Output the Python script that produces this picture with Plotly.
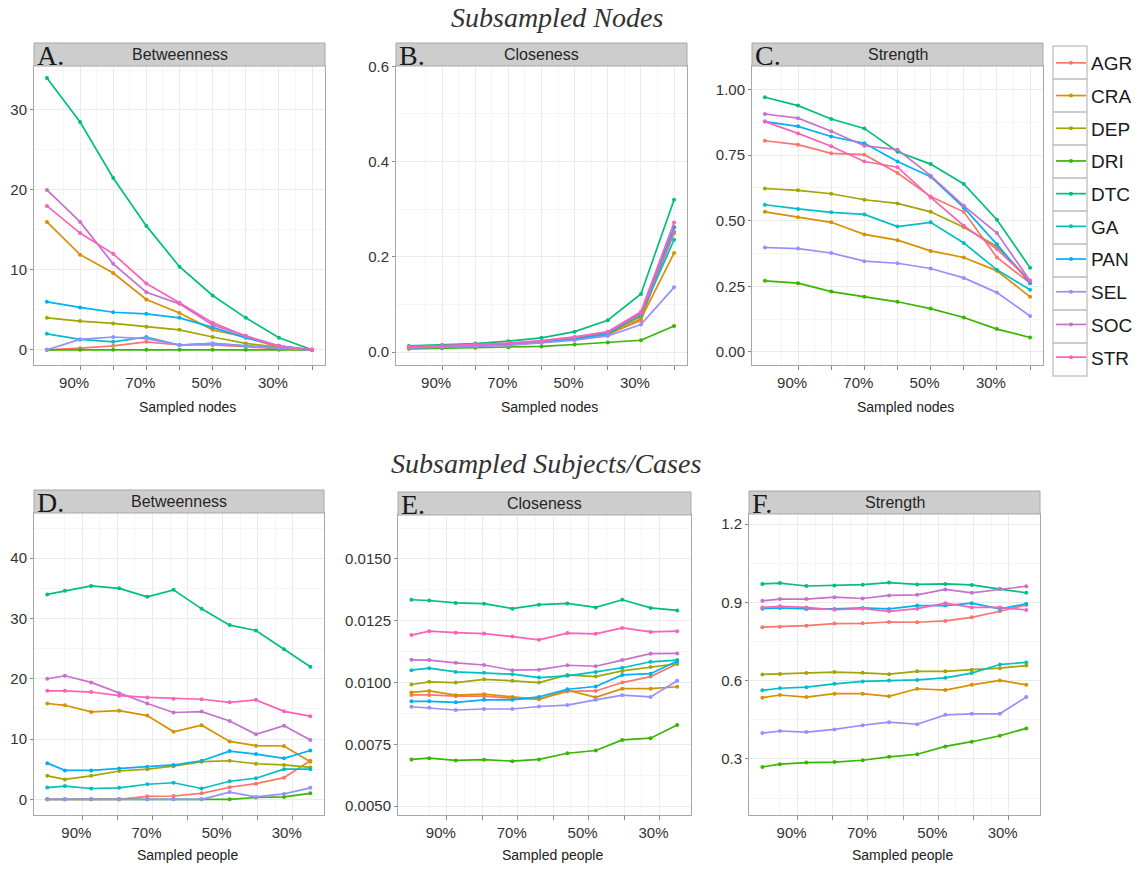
import plotly.graph_objects as go

# ---------------- data ----------------
nodes = ["AGR", "CRA", "DEP", "DRI", "DTC", "GA", "PAN", "SEL", "SOC", "STR"]
colors = ["#F8766D", "#D89000", "#A3A500", "#39B600", "#00BF7D",
          "#00BFC4", "#00B0F6", "#9590FF", "#C771CC", "#FA62B8"]

sampled_nodes = [100, 90, 80, 70, 60, 50, 40, 30, 20]
sampled_people = [100, 95, 87.5, 79.5, 71.5, 64, 56, 48, 40.5, 32.5, 25]

nodes_betweenness = {
    "AGR": [0, 0.2, 0.5, 1.0, 0.6, 0.6, 0.4, 0.1, 0],
    "CRA": [16, 11.9, 9.6, 6.3, 4.6, 2.5, 1.6, 0.3, 0],
    "DEP": [4, 3.6, 3.3, 2.9, 2.5, 1.6, 0.8, 0.3, 0],
    "DRI": [0, 0, 0, 0, 0, 0, 0, 0, 0],
    "DTC": [34, 28.5, 21.5, 15.5, 10.4, 6.8, 4.0, 1.5, 0],
    "GA":  [2, 1.3, 1.0, 1.6, 0.6, 0.8, 0.5, 0.2, 0],
    "PAN": [6, 5.3, 4.7, 4.5, 4.0, 2.8, 1.5, 0.5, 0],
    "SEL": [0, 1.3, 1.6, 1.4, 0.6, 0.8, 0.5, 0.2, 0],
    "SOC": [20, 16, 10.75, 7.2, 5.75, 3.1, 1.75, 0.5, 0],
    "STR": [18, 14.6, 12.0, 8.3, 5.9, 3.4, 1.7, 0.4, 0],
}
nodes_closeness = {
    "AGR": [0.009, 0.011, 0.013, 0.016, 0.021, 0.028, 0.038, 0.066, 0.262],
    "CRA": [0.009, 0.011, 0.013, 0.016, 0.021, 0.027, 0.036, 0.070, 0.208],
    "DEP": [0.010, 0.012, 0.014, 0.017, 0.022, 0.029, 0.039, 0.075, 0.250],
    "DRI": [0.007, 0.008, 0.009, 0.010, 0.012, 0.016, 0.020, 0.025, 0.055],
    "DTC": [0.013, 0.015, 0.018, 0.023, 0.030, 0.043, 0.067, 0.122, 0.320],
    "GA":  [0.010, 0.012, 0.014, 0.017, 0.022, 0.029, 0.040, 0.078, 0.236],
    "PAN": [0.009, 0.011, 0.013, 0.016, 0.021, 0.028, 0.038, 0.082, 0.262],
    "SEL": [0.009, 0.010, 0.012, 0.014, 0.019, 0.025, 0.034, 0.058, 0.136],
    "SOC": [0.011, 0.013, 0.015, 0.018, 0.023, 0.031, 0.042, 0.080, 0.253],
    "STR": [0.011, 0.013, 0.016, 0.019, 0.024, 0.032, 0.043, 0.085, 0.272],
}
nodes_strength = {
    "AGR": [0.805, 0.790, 0.757, 0.752, 0.682, 0.592, 0.534, 0.360, 0.262],
    "CRA": [0.534, 0.513, 0.494, 0.448, 0.426, 0.385, 0.360, 0.309, 0.210],
    "DEP": [0.623, 0.616, 0.603, 0.580, 0.566, 0.534, 0.475, 0.402, 0.271],
    "DRI": [0.271, 0.262, 0.230, 0.210, 0.191, 0.165, 0.131, 0.087, 0.055],
    "DTC": [0.971, 0.939, 0.888, 0.852, 0.763, 0.716, 0.640, 0.504, 0.321],
    "GA":  [0.561, 0.545, 0.532, 0.524, 0.478, 0.494, 0.415, 0.313, 0.237],
    "PAN": [0.878, 0.860, 0.821, 0.795, 0.726, 0.668, 0.550, 0.410, 0.262],
    "SEL": [0.398, 0.394, 0.377, 0.346, 0.338, 0.318, 0.282, 0.226, 0.137],
    "SOC": [0.907, 0.891, 0.841, 0.786, 0.771, 0.672, 0.557, 0.453, 0.271],
    "STR": [0.878, 0.833, 0.784, 0.726, 0.704, 0.589, 0.481, 0.392, 0.271],
}
people_betweenness = {
    "AGR": [0, 0, 0, 0, 0.5, 0.55, 1.0, 2.0, 2.6, 3.6, 6.4],
    "CRA": [15.9, 15.6, 14.5, 14.7, 13.9, 11.2, 12.3, 9.6, 8.9, 8.85, 6.25],
    "DEP": [3.9, 3.3, 3.9, 4.7, 5.0, 5.5, 6.25, 6.4, 5.9, 5.7, 5.3],
    "DRI": [0, 0, 0, 0, 0, 0, 0, 0, 0.3, 0.4, 1.0],
    "DTC": [34.0, 34.6, 35.4, 35.0, 33.6, 34.75, 31.6, 28.9, 28.0, 24.9, 22.0],
    "GA":  [1.95, 2.2, 1.8, 1.9, 2.5, 2.75, 1.8, 3.0, 3.5, 5.0, 5.0],
    "PAN": [6.0, 4.8, 4.8, 5.1, 5.4, 5.7, 6.4, 8.0, 7.5, 6.8, 8.1],
    "SEL": [0, 0, 0, 0, 0, 0, 0, 1.2, 0.4, 0.9, 1.9],
    "SOC": [20.0, 20.5, 19.4, 17.6, 15.9, 14.4, 14.55, 13.0, 10.8, 12.2, 9.85],
    "STR": [18.0, 18.0, 17.8, 17.2, 16.9, 16.7, 16.6, 16.1, 16.5, 14.6, 13.8],
}
people_closeness = {
    "AGR": [0.00950, 0.00950, 0.00945, 0.00945, 0.00936, 0.00933, 0.00964, 0.00966, 0.01000, 0.01024, 0.01076],
    "CRA": [0.00960, 0.00966, 0.00949, 0.00953, 0.00942, 0.00932, 0.00969, 0.00940, 0.00975, 0.00975, 0.00983],
    "DEP": [0.00992, 0.01003, 0.01000, 0.01013, 0.01007, 0.01000, 0.01031, 0.01024, 0.01047, 0.01063, 0.01076],
    "DRI": [0.00689, 0.00694, 0.00685, 0.00688, 0.00682, 0.00689, 0.00714, 0.00725, 0.00768, 0.00775, 0.00828],
    "DTC": [0.01335, 0.01332, 0.01322, 0.01319, 0.01299, 0.01315, 0.01320, 0.01304, 0.01335, 0.01302, 0.01292],
    "GA":  [0.01050, 0.01058, 0.01043, 0.01040, 0.01034, 0.01020, 0.01027, 0.01043, 0.01060, 0.01084, 0.01091],
    "PAN": [0.00924, 0.00924, 0.00920, 0.00930, 0.00930, 0.00942, 0.00973, 0.00984, 0.01031, 0.01036, 0.01087],
    "SEL": [0.00902, 0.00898, 0.00889, 0.00893, 0.00893, 0.00903, 0.00909, 0.00930, 0.00949, 0.00942, 0.01007],
    "SOC": [0.01092, 0.01091, 0.01080, 0.01071, 0.01050, 0.01052, 0.01070, 0.01066, 0.01091, 0.01117, 0.01118],
    "STR": [0.01192, 0.01208, 0.01202, 0.01198, 0.01186, 0.01173, 0.01200, 0.01197, 0.01221, 0.01205, 0.01208],
}
people_strength = {
    "AGR": [0.805, 0.807, 0.811, 0.819, 0.820, 0.825, 0.824, 0.829, 0.843, 0.866, 0.890],
    "CRA": [0.535, 0.545, 0.537, 0.550, 0.550, 0.540, 0.569, 0.564, 0.584, 0.601, 0.584],
    "DEP": [0.624, 0.626, 0.629, 0.633, 0.630, 0.625, 0.636, 0.636, 0.642, 0.648, 0.658],
    "DRI": [0.269, 0.280, 0.286, 0.288, 0.295, 0.308, 0.318, 0.348, 0.366, 0.389, 0.417],
    "DTC": [0.971, 0.974, 0.963, 0.965, 0.968, 0.976, 0.969, 0.971, 0.967, 0.951, 0.937],
    "GA":  [0.563, 0.571, 0.575, 0.588, 0.597, 0.601, 0.603, 0.611, 0.629, 0.662, 0.670],
    "PAN": [0.876, 0.879, 0.875, 0.875, 0.879, 0.875, 0.888, 0.888, 0.897, 0.875, 0.895],
    "SEL": [0.399, 0.407, 0.403, 0.413, 0.429, 0.441, 0.433, 0.469, 0.473, 0.473, 0.537],
    "SOC": [0.906, 0.913, 0.913, 0.920, 0.915, 0.927, 0.929, 0.950, 0.937, 0.951, 0.962],
    "STR": [0.881, 0.885, 0.881, 0.872, 0.876, 0.866, 0.876, 0.897, 0.881, 0.881, 0.871],
}

top_tick_vals = [90, 80, 70, 60, 50, 40, 30, 20]
top_tick_text = ["90%", "", "70%", "", "50%", "", "30%", ""]
bottom_tick_vals = [90, 80, 70, 60, 50, 40, 30]
bottom_tick_text = ["90%", "", "70%", "", "50%", "", "30%"]

# ---------------- layout helpers ----------------
W, H = 1142, 869
SANS = "Liberation Sans, Arial, sans-serif"
SERIF = "Liberation Serif, Times New Roman, serif"


def px(a):
    return a / W


def py(a):
    return 1 - a / H


panels = [
    dict(letter="A.", title="Betweenness", data=nodes_betweenness, x=sampled_nodes,
         xtitle="Sampled nodes", xpx=(34, 325), ypx=(66, 365), yrange=[-1.9, 35.5],
         yt=[0, 10, 20, 30], ytt=["0", "10", "20", "30"], ym=[5, 15, 25, 35],
         xr=[103.9, 16.1], xt=top_tick_vals, xtt=top_tick_text, ty=407),
    dict(letter="B.", title="Closeness", data=nodes_closeness, x=sampled_nodes,
         xtitle="Sampled nodes", xpx=(396, 687), ypx=(66, 365), yrange=[-0.027, 0.6006],
         yt=[0, 0.2, 0.4, 0.6], ytt=["0.0", "0.2", "0.4", "0.6"], ym=[0.1, 0.3, 0.5],
         xr=[103.9, 16.1], xt=top_tick_vals, xtt=top_tick_text, ty=407),
    dict(letter="C.", title="Strength", data=nodes_strength, x=sampled_nodes,
         xtitle="Sampled nodes", xpx=(752, 1043), ypx=(66, 365), yrange=[-0.05, 1.09],
         yt=[0, 0.25, 0.5, 0.75, 1.0], ytt=["0.00", "0.25", "0.50", "0.75", "1.00"],
         ym=[0.125, 0.375, 0.625, 0.875], xr=[103.9, 16.1], xt=top_tick_vals, xtt=top_tick_text, ty=407),
    dict(letter="D.", title="Betweenness", data=people_betweenness, x=sampled_people,
         xtitle="Sampled people", xpx=(34, 324), ypx=(513, 815), yrange=[-2.6, 47.5],
         yt=[0, 10, 20, 30, 40], ytt=["0", "10", "20", "30", "40"], ym=[5, 15, 25, 35, 45],
         xr=[103.8, 21.1], xt=bottom_tick_vals, xtt=bottom_tick_text, ty=855),
    dict(letter="E.", title="Closeness", data=people_closeness, x=sampled_people,
         xtitle="Sampled people", xpx=(398, 691), ypx=(515, 815), yrange=[0.00464, 0.01678],
         yt=[0.005, 0.0075, 0.01, 0.0125, 0.015],
         ytt=["0.0050", "0.0075", "0.0100", "0.0125", "0.0150"],
         ym=[0.00625, 0.00875, 0.01125, 0.01375, 0.01625],
         xr=[103.8, 21.1], xt=bottom_tick_vals, xtt=bottom_tick_text, ty=855),
    dict(letter="F.", title="Strength", data=people_strength, x=sampled_people,
         xtitle="Sampled people", xpx=(749, 1040), ypx=(514, 815), yrange=[0.085, 1.239],
         yt=[0.3, 0.6, 0.9, 1.2], ytt=["0.3", "0.6", "0.9", "1.2"], ym=[0.15, 0.45, 0.75, 1.05],
         xr=[103.8, 21.1], xt=bottom_tick_vals, xtt=bottom_tick_text, ty=855),
]

fig = go.Figure()
shapes = []
annotations = []
layout_axes = {}

BORDER = "#A8A8A8"
GRID = "#EBEBEB"
MINOR = "#F5F5F5"

for i, p in enumerate(panels):
    n = i + 1
    xa = "x" if n == 1 else f"x{n}"
    ya = "y" if n == 1 else f"y{n}"
    for name, col in zip(nodes, colors):
        fig.add_trace(go.Scatter(
            x=p["x"], y=p["data"][name], mode="lines+markers", name=name,
            line=dict(color=col, width=1.7), marker=dict(color=col, size=4),
            xaxis=xa, yaxis=ya, showlegend=(n == 1), legendgroup=name,
        ))
    x0, x1 = p["xpx"]
    t, b = p["ypx"]
    layout_axes["xaxis" if n == 1 else f"xaxis{n}"] = dict(
        domain=[px(x0), px(x1)], anchor=ya, range=p["xr"], automargin=False,
        tickmode="array", tickvals=p["xt"], ticktext=p["xtt"],
        ticks="outside", ticklen=4, tickcolor="#888888", tickwidth=1,
        ticklabelshift=6,
        showgrid=True, gridcolor=GRID, gridwidth=1,
        minor=dict(tickvals=[v + 5 for v in p["xt"]], showgrid=True, gridcolor=MINOR, ticks=""),
        showline=True, linecolor=BORDER, linewidth=1, mirror=True, zeroline=False,
        tickfont=dict(family=SANS, size=15, color="#333333"),
    )
    layout_axes["yaxis" if n == 1 else f"yaxis{n}"] = dict(
        domain=[py(b), py(t)], anchor=xa, range=p["yrange"], automargin=False,
        tickmode="array", tickvals=p["yt"], ticktext=p["ytt"],
        ticks="outside", ticklen=3, tickcolor="#888888", tickwidth=1,
        showgrid=True, gridcolor=GRID, gridwidth=1,
        minor=dict(tickvals=p["ym"], showgrid=True, gridcolor=MINOR, ticks=""),
        showline=True, linecolor=BORDER, linewidth=1, mirror=True, zeroline=False,
        tickfont=dict(family=SANS, size=15, color="#333333"),
    )
    # strip
    st = t - 23
    shapes.append(dict(type="rect", xref="paper", yref="paper",
                       x0=px(x0), x1=px(x1), y0=py(t), y1=py(st),
                       fillcolor="#CDCDCD", line=dict(color="#A8A8A8", width=1), layer="above"))
    annotations.append(dict(xref="paper", yref="paper", x=px((x0 + x1) / 2), y=py((st + t) / 2),
                            text=p["title"], showarrow=False, xanchor="center", yanchor="middle",
                            font=dict(family=SANS, size=16, color="#262626")))
    annotations.append(dict(xref="paper", yref="paper", x=px(x0 + 1), y=py((st + t) / 2 + 1),
                            text=p["letter"], showarrow=False, xanchor="left", yanchor="middle",
                            font=dict(family=SERIF, size=28, color="#1a1a1a")))
    annotations.append(dict(xref="paper", yref="paper", x=px((x0 + x1) / 2 + 8), y=py(p["ty"]),
                            text=p["xtitle"], showarrow=False, xanchor="center", yanchor="middle",
                            font=dict(family=SANS, size=14, color="#222222")))

annotations.append(dict(xref="paper", yref="paper", x=px(557), y=1.0,
                        text="<i>Subsampled Nodes</i>", showarrow=False,
                        xanchor="center", yanchor="top",
                        font=dict(family=SERIF, size=28, color="#333333")))
annotations.append(dict(xref="paper", yref="paper", x=px(546), y=py(464),
                        text="<i>Subsampled Subjects/Cases</i>", showarrow=False,
                        xanchor="center", yanchor="middle",
                        font=dict(family=SERIF, size=28, color="#333333")))

# legend key boxes
for k in range(len(nodes)):
    top = 46 + 33 * k
    shapes.append(dict(type="rect", xref="paper", yref="paper",
                       x0=px(1053), x1=px(1087), y0=py(top + 33), y1=py(top),
                       fillcolor="rgba(0,0,0,0)", line=dict(color="#C8C8C8", width=1.5),
                       layer="below"))

fig.update_layout(
    width=W, height=H, margin=dict(l=0, r=0, t=0, b=0, autoexpand=False),
    paper_bgcolor="white", plot_bgcolor="white",
    shapes=shapes, annotations=annotations,
    showlegend=True,
    legend=dict(x=px(1051), y=py(44), xanchor="left", yanchor="top",
                font=dict(family=SANS, size=19, color="#1a1a1a"),
                bgcolor="rgba(0,0,0,0)", borderwidth=0, tracegroupgap=5,
                itemwidth=30),
    **layout_axes,
)

fig.write_html("out.html", config={"displayModeBar": False},
               post_script="document.body.style.margin='0';")
